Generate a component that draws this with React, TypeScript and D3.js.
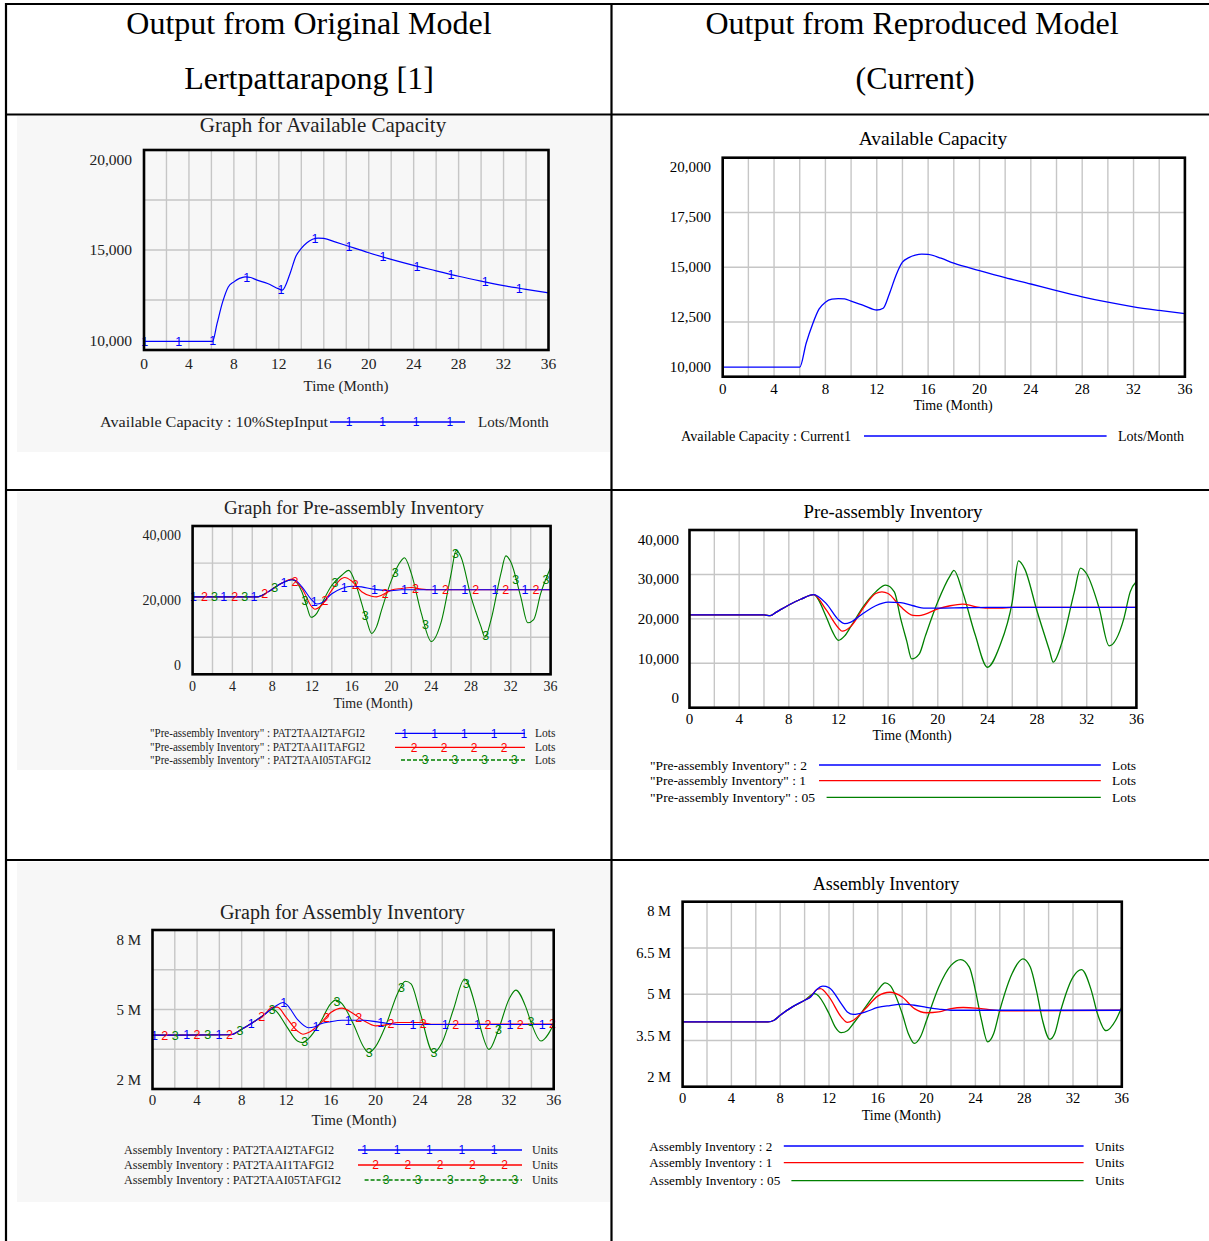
import React from 'react';
import * as d3 from 'd3';

type Pt = [number, number];

// Available Capacity (Lots/Month)
const capacityOriginal: Pt[] = [[0, 9950], [6.1, 9950], [6.5, 10930], [7, 12130], [7.5, 12960], [8, 13240], [8.5, 13430], [9, 13520], [9.5, 13480], [10, 13350], [11, 13150], [12, 12850], [12.3, 12780], [13, 13700], [13.5, 14630], [14, 15090], [14.5, 15400], [15, 15590], [15.5, 15660], [16, 15640], [17, 15450], [18, 15250], [20, 14850], [22, 14480], [24, 14150], [26, 13850], [28, 13550], [30, 13280], [32, 13030], [34, 12820], [36, 12630]];
const capacityCurrent: Pt[] = [[0, 10000], [6, 10000], [6.5, 11200], [7, 12150], [7.5, 12900], [8, 13250], [8.5, 13400], [9, 13430], [9.5, 13420], [10, 13300], [11, 13080], [12, 12860], [12.5, 12950], [13, 13700], [13.5, 14600], [14, 15250], [14.5, 15480], [15, 15600], [15.5, 15650], [16, 15640], [17, 15450], [18, 15200], [20, 14830], [22, 14480], [24, 14160], [26, 13830], [28, 13520], [30, 13250], [32, 13020], [34, 12840], [36, 12680]];

// Pre-assembly Inventory (Lots)
const preOriginal1: Pt[] = [[0, 21000], [6.5, 21000], [7, 21500], [8, 23400], [9, 25300], [10, 26300], [10.5, 25800], [11, 24100], [12, 20000], [12.5, 18800], [13, 19200], [14, 22000], [15, 23600], [16, 24300], [17, 24100], [18, 23500], [19, 23100], [20, 22900], [21, 23200], [36, 23200]];
const preOriginal2: Pt[] = [[0, 21000], [6.5, 21000], [7, 21500], [8, 23400], [9, 25300], [10, 26500], [11, 23600], [12, 17900], [12.3, 17200], [13, 18500], [14, 23100], [15, 26700], [15.3, 27000], [16, 25900], [17, 22600], [18, 21200], [18.5, 21000], [19, 21500], [20, 23100], [21, 23600], [22, 23900], [23, 23400], [24, 23200], [36, 23200]];
const preOriginal3: Pt[] = [[0, 21000], [6.5, 21000], [7, 21500], [8, 23400], [9, 25300], [10, 26300], [11, 22500], [11.5, 17900], [11.9, 14700], [12.5, 16000], [13, 19000], [14, 24600], [15, 27700], [15.7, 29200], [16.5, 24100], [17, 19000], [17.5, 13800], [18, 9700], [18.5, 11800], [19, 16900], [20, 26200], [21, 32300], [21.3, 33100], [22, 28200], [23, 15900], [24, 7200], [25, 13300], [26, 28200], [26.5, 35400], [27, 33300], [28, 21000], [29, 11800], [29.4, 8500], [30, 13800], [31, 28200], [31.5, 33700], [32, 31800], [33, 21000], [33.7, 13000], [34.3, 14000], [35, 22000], [36, 30000]];
const preCurrent2: Pt[] = [[0, 21000], [6, 21000], [6.5, 20800], [7, 21700], [8, 23500], [9, 25000], [10, 26100], [11, 23900], [12, 19800], [12.5, 18800], [13, 19200], [14, 21400], [15, 23300], [16, 24200], [17, 24100], [18, 23300], [19, 22700], [20, 22700], [22, 22800], [24, 22900], [36, 22900]];
const preCurrent1: Pt[] = [[0, 21000], [6, 21000], [6.5, 20800], [7, 21700], [8, 23500], [9, 25000], [10, 26100], [11, 22300], [12, 17700], [12.3, 16900], [13, 18100], [14, 22700], [15, 26400], [15.5, 26800], [16, 26400], [17, 23100], [18, 20900], [18.5, 20800], [19, 21200], [20, 22500], [21, 23300], [22, 23700], [23, 23100], [24, 22700], [25, 22700], [26, 22900], [36, 22900]];
const preCurrent05: Pt[] = [[0, 21000], [6, 21000], [6.5, 20800], [7, 21700], [8, 23500], [9, 25000], [10, 26100], [11, 20600], [11.5, 16900], [12, 14600], [12.5, 15700], [13, 18100], [14, 23100], [15, 26800], [15.8, 28500], [16.5, 26800], [17, 20200], [17.5, 14400], [17.9, 9900], [18.5, 11100], [19, 15700], [20, 24300], [21, 30900], [21.3, 32200], [22, 26800], [23, 16100], [24, 7800], [25, 13200], [26, 24300], [26.5, 34600], [27, 32600], [28, 21900], [29, 12000], [29.3, 9100], [30, 14000], [31, 26800], [31.5, 32800], [32, 31300], [33, 22700], [33.8, 13200], [35, 20200], [35.5, 26800], [36, 29400]];

// Assembly Inventory (millions of Units)
const asmOriginal1: Pt[] = [[0, 3.9], [7, 3.92], [8, 4.15], [9, 4.44], [10, 4.77], [11, 5.13], [11.7, 5.3], [12, 5.23], [13, 4.58], [14, 4.22], [14.5, 4.25], [15, 4.37], [16, 4.48], [17, 4.54], [19, 4.54], [20, 4.48], [21, 4.41], [22, 4.36], [36, 4.36]];
const asmOriginal2: Pt[] = [[0, 3.9], [7, 3.92], [8, 4.15], [9, 4.44], [10, 4.77], [10.8, 5.1], [11.2, 5.1], [12, 4.66], [13, 4.08], [13.5, 3.94], [14, 4.01], [15, 4.37], [16, 4.87], [17, 5.06], [18, 4.83], [19, 4.51], [20, 4.3], [21, 4.34], [22, 4.44], [24, 4.44], [25, 4.37], [36, 4.38]];
const asmOriginal3: Pt[] = [[0, 3.9], [7, 3.92], [8, 4.15], [9, 4.44], [10, 4.77], [10.75, 5.01], [11, 4.97], [12, 4.3], [13, 3.65], [13.5, 3.58], [14, 3.75], [15, 4.4], [16, 5.25], [16.4, 5.4], [17, 5.25], [18, 4.4], [19, 3.35], [19.4, 3.15], [20, 3.4], [21, 4.4], [22, 5.7], [22.7, 6.21], [23.2, 6.1], [24, 4.9], [25.2, 3.15], [26, 3.6], [27, 5.0], [28, 6.31], [29, 5.1], [29.5, 4.1], [30.2, 3.29], [31, 4.08], [32, 5.45], [32.6, 5.83], [33.5, 5.1], [34, 4.4], [34.85, 3.65], [36, 4.37]];
const asmCurrent2: Pt[] = [[0, 4.0], [7, 4.0], [7.5, 4.06], [8, 4.24], [9, 4.54], [10, 4.78], [10.5, 4.9], [11, 5.17], [11.5, 5.29], [12, 5.24], [13, 4.66], [13.5, 4.36], [14, 4.27], [15, 4.36], [16, 4.52], [17, 4.59], [18, 4.64], [19, 4.6], [20, 4.52], [21, 4.46], [22, 4.42], [36, 4.42]];
const asmCurrent1: Pt[] = [[0, 4.0], [7, 4.0], [7.5, 4.06], [8, 4.24], [9, 4.54], [10, 4.78], [10.5, 4.92], [11, 5.17], [11.3, 5.2], [12, 4.9], [13, 4.18], [13.5, 3.98], [14, 4.06], [15, 4.48], [16, 4.93], [17, 5.07], [18, 4.9], [19, 4.48], [20, 4.33], [21, 4.36], [22, 4.48], [23, 4.52], [24, 4.5], [25, 4.45], [26, 4.4], [27, 4.4], [36, 4.42]];
const asmCurrent05: Pt[] = [[0, 4.0], [7, 4.0], [7.5, 4.06], [8, 4.24], [9, 4.54], [10, 4.78], [10.8, 5.02], [11, 4.99], [12, 4.3], [12.5, 3.82], [13, 3.61], [13.5, 3.68], [14, 3.94], [15, 4.54], [16, 5.14], [16.6, 5.41], [17, 5.32], [18, 4.3], [18.5, 3.58], [19, 3.22], [19.5, 3.46], [20, 4.06], [21, 5.26], [22, 6.04], [22.8, 6.25], [23.5, 5.98], [24, 5.14], [24.5, 4.06], [25, 3.28], [25.5, 3.58], [26, 4.42], [27, 5.74], [27.9, 6.28], [28.5, 5.98], [29, 5.14], [29.5, 4.06], [30.1, 3.37], [30.5, 3.58], [31, 4.42], [32, 5.62], [32.7, 5.89], [33.5, 5.14], [34, 4.3], [34.7, 3.68], [35.5, 4.06], [36, 4.54]];

const capTicksOriginal = [10000, 15000, 20000];
const capTicksCurrent = [10000, 12500, 15000, 17500, 20000];
const preTicksOriginal = [0, 20000, 40000];
const preTicksCurrent = [0, 10000, 20000, 30000, 40000];
const asmTicksOriginal = [2, 5, 8];
const asmTicksCurrent = [2, 3.5, 5, 6.5, 8];
const monthTicks = [0, 4, 8, 12, 16, 20, 24, 28, 32, 36];

const BLUE = '#0000ff';
const RED = '#ff0000';
const GREEN = '#008000';
const SERIF = '"Liberation Serif", "Times New Roman", serif';
const SANS = '"Liberation Sans", Arial, sans-serif';

const comma = d3.format(',');
const mega = (v: number) => `${v} M`;

type Series = { data: Pt[]; color: string; mark?: string; start?: number };
type LegendRow = { label: string; w: number; y: number; color: string; x1: number; x2: number; unit: string; dash?: string; mark?: string; marks?: number[] };

type PanelProps = {
  box: { l: number; r: number; t: number; b: number };
  yDomain: [number, number];
  yTicks: number[];
  yFmt: (v: number) => string;
  yLabelX: number;
  xLabelY: number;
  tickFont: number;
  title: string; titleX: number; titleY: number; titleFont: number;
  axisX: number; axisY: number; axisFont: number;
  series: Series[];
  step?: number;
  legend: LegendRow[];
  legendX: number; legendFont: number; unitX: number;
  ink: string;
  lineW: number;
};

const Panel: React.FC<PanelProps> = (p) => {
  const { box } = p;
  const inset = 9.5;
  const x = d3.scaleLinear().domain([0, 36]).range([box.l, box.r]);
  const y = d3.scaleLinear().domain(p.yDomain).range([box.b - inset, box.t + inset]);
  const gy = d3.scaleLinear().domain([0, 4]).range([box.b, box.t]);
  const line = d3.line<Pt>().x(d => x(d[0])).y(d => y(d[1])).curve(d3.curveMonotoneX);
  const drawOrder = [...p.series].reverse();

  return (
    <g fontFamily={SERIF} fill={p.ink}>
      {/* grid */}
      {d3.range(2, 36, 2).map(m => (
        <line key={'vx' + m} x1={x(m)} x2={x(m)} y1={box.t} y2={box.b} stroke="#c6c6c6" strokeWidth={1.4} />
      ))}
      {[1, 2, 3].map(k => (
        <line key={'hy' + k} x1={box.l} x2={box.r} y1={gy(k)} y2={gy(k)} stroke="#c6c6c6" strokeWidth={1.4} />
      ))}

      {/* series */}
      {drawOrder.map((s, i) => (
        <path key={'s' + i} d={line(s.data) ?? ''} fill="none" stroke={s.color} strokeWidth={p.lineW} />
      ))}
      {drawOrder.filter(s => s.mark).map((s, i) => {
        const interp = d3.scaleLinear().domain(s.data.map(d => d[0])).range(s.data.map(d => d[1]));
        const ts = d3.range(s.start ?? 0, 36.01, p.step ?? 3);
        return ts.map((t, j) => (
          <text key={'m' + i + '-' + j} x={x(t)} y={y(interp(t))} dy="0.36em" textAnchor="middle"
            fontFamily={SANS} fontSize={12.5} fill={s.color}>{s.mark}</text>
        ));
      })}

      <rect x={box.l} y={box.t} width={box.r - box.l} height={box.b - box.t} fill="none" stroke="#000" strokeWidth={2.6} />

      {/* axes labels */}
      {p.yTicks.map(v => (
        <text key={'yt' + v} x={p.yLabelX} y={y(v)} dy="0.35em" textAnchor="end" fontSize={p.tickFont}>{p.yFmt(v)}</text>
      ))}
      {monthTicks.map(m => (
        <text key={'xt' + m} x={x(m)} y={p.xLabelY} dy="0.35em" textAnchor="middle" fontSize={p.tickFont}>{m}</text>
      ))}
      <text x={p.axisX} y={p.axisY} dy="0.35em" textAnchor="middle" fontSize={p.axisFont}>Time (Month)</text>
      <text x={p.titleX} y={p.titleY} dy="0.35em" textAnchor="middle" fontSize={p.titleFont}>{p.title}</text>

      {/* legend */}
      {p.legend.map((r, i) => (
        <g key={'lg' + i}>
          <text x={p.legendX} y={r.y} dy="0.35em" fontSize={p.legendFont} textLength={r.w} lengthAdjust="spacingAndGlyphs">{r.label}</text>
          <line x1={r.x1} x2={r.x2} y1={r.y} y2={r.y} stroke={r.color} strokeWidth={1.3} strokeDasharray={r.dash} />
          {(r.marks ?? []).map((mx, j) => (
            <text key={j} x={mx} y={r.y} dy="0.36em" textAnchor="middle" fontFamily={SANS} fontSize={12} fill={r.color}>{r.mark}</text>
          ))}
          <text x={p.unitX} y={r.y} dy="0.35em" fontSize={p.legendFont}>{r.unit}</text>
        </g>
      ))}
    </g>
  );
};

const App: React.FC = () => {
  return (
    <svg width={1209} height={1241} style={{ position: 'absolute', left: 0, top: 0, background: '#fff' }}>
      {/* light backgrounds of the pasted original screenshots */}
      <rect x={17} y={116} width={593} height={336} fill="#f7f7f7" />
      <rect x={17} y={492} width={593} height={278} fill="#f7f7f7" />
      <rect x={17} y={862} width={593} height={340} fill="#f7f7f7" />

      {/* table */}
      <g stroke="#000" strokeWidth={2.2}>
        <line x1={5} x2={1209} y1={4} y2={4} />
        <line x1={5} x2={1209} y1={114.5} y2={114.5} />
        <line x1={5} x2={1209} y1={490} y2={490} />
        <line x1={5} x2={1209} y1={860} y2={860} />
        <line x1={6} x2={6} y1={3} y2={1241} />
        <line x1={611.5} x2={611.5} y1={3} y2={1241} />
      </g>
      <g fontFamily={SERIF} fontSize={32} textAnchor="middle" fill="#000">
        <text x={309} y={34}>Output from Original Model</text>
        <text x={309} y={89}>Lertpattarapong [1]</text>
        <text x={912} y={34}>Output from Reproduced Model</text>
        <text x={915} y={89}>(Current)</text>
      </g>

      {/* Available Capacity, original */}
      <Panel box={{ l: 144, r: 548.5, t: 150, b: 350 }} yDomain={[10000, 20000]} yTicks={capTicksOriginal} yFmt={comma}
        yLabelX={132} xLabelY={364} tickFont={15.5}
        title="Graph for Available Capacity" titleX={323} titleY={125} titleFont={21}
        axisX={346} axisY={386} axisFont={15}
        series={[{ data: capacityOriginal, color: BLUE, mark: '1', start: 0.06 }]} step={3.03}
        legend={[{ label: 'Available Capacity : 10%StepInput', w: 228, y: 422, color: BLUE, x1: 330, x2: 465, unit: 'Lots/Month', mark: '1', marks: d3.range(349, 460, 33.6) }]}
        legendX={100} legendFont={15} unitX={478} ink="#222" lineW={1.2} />

      {/* Available Capacity, current */}
      <Panel box={{ l: 722.7, r: 1184.9, t: 157.7, b: 376.7 }} yDomain={[10000, 20000]} yTicks={capTicksCurrent} yFmt={comma}
        yLabelX={711} xLabelY={388.5} tickFont={15}
        title="Available Capacity" titleX={933} titleY={138.5} titleFont={19.5}
        axisX={953} axisY={405} axisFont={14}
        series={[{ data: capacityCurrent, color: BLUE }]}
        legend={[{ label: 'Available Capacity : Current1', w: 170, y: 436, color: BLUE, x1: 864, x2: 1106.6, unit: 'Lots/Month' }]}
        legendX={681} legendFont={14} unitX={1118} ink="#000" lineW={1.3} />

      {/* Pre-assembly Inventory, original */}
      <Panel box={{ l: 192.6, r: 550.6, t: 526, b: 674.3 }} yDomain={[0, 40000]} yTicks={preTicksOriginal} yFmt={comma}
        yLabelX={181} xLabelY={686} tickFont={14}
        title="Graph for Pre-assembly Inventory" titleX={354} titleY={507} titleFont={19}
        axisX={373} axisY={703} axisFont={14}
        series={[
          { data: preOriginal1, color: BLUE, mark: '1', start: 0.1 },
          { data: preOriginal2, color: RED, mark: '2', start: 1.2 },
          { data: preOriginal3, color: GREEN, mark: '3', start: 2.2 },
        ]} step={3.03}
        legend={[
          { label: '"Pre-assembly Inventory" : PAT2TAAI2TAFGI2', w: 215, y: 733.3, color: BLUE, x1: 395, x2: 525, unit: 'Lots', mark: '1', marks: d3.range(404.7, 530, 29.8) },
          { label: '"Pre-assembly Inventory" : PAT2TAAI1TAFGI2', w: 215, y: 747.3, color: RED, x1: 395, x2: 525, unit: 'Lots', mark: '2', marks: d3.range(414, 510, 30) },
          { label: '"Pre-assembly Inventory" : PAT2TAAI05TAFGI2', w: 221, y: 760, color: GREEN, x1: 401, x2: 525, unit: 'Lots', dash: '4,2', mark: '3', marks: d3.range(425, 520, 29.8) },
        ]}
        legendX={150} legendFont={11.5} unitX={535} ink="#222" lineW={1.1} />

      {/* Pre-assembly Inventory, current */}
      <Panel box={{ l: 689.5, r: 1136.4, t: 530, b: 707.7 }} yDomain={[0, 40000]} yTicks={preTicksCurrent} yFmt={comma}
        yLabelX={679} xLabelY={718.7} tickFont={15}
        title="Pre-assembly Inventory" titleX={893} titleY={511.7} titleFont={18.8}
        axisX={912} axisY={735} axisFont={14}
        series={[
          { data: preCurrent2, color: BLUE },
          { data: preCurrent1, color: RED },
          { data: preCurrent05, color: GREEN },
        ]}
        legend={[
          { label: '"Pre-assembly Inventory" : 2', w: 157, y: 765, color: BLUE, x1: 819, x2: 1100.8, unit: 'Lots' },
          { label: '"Pre-assembly Inventory" : 1', w: 156, y: 780.7, color: RED, x1: 819, x2: 1100.8, unit: 'Lots' },
          { label: '"Pre-assembly Inventory" : 05', w: 165, y: 797.3, color: GREEN, x1: 826.6, x2: 1100.8, unit: 'Lots' },
        ]}
        legendX={650} legendFont={13.5} unitX={1112} ink="#000" lineW={1.3} />

      {/* Assembly Inventory, original */}
      <Panel box={{ l: 152.5, r: 553.7, t: 930, b: 1089 }} yDomain={[2, 8]} yTicks={asmTicksOriginal} yFmt={mega}
        yLabelX={141} xLabelY={1100} tickFont={15}
        title="Graph for Assembly Inventory" titleX={342.4} titleY={911.7} titleFont={20}
        axisX={354} axisY={1119.3} axisFont={15}
        series={[
          { data: asmOriginal1, color: BLUE, mark: '1', start: 0.17 },
          { data: asmOriginal2, color: RED, mark: '2', start: 1.1 },
          { data: asmOriginal3, color: GREEN, mark: '3', start: 2.05 },
        ]} step={2.9}
        legend={[
          { label: 'Assembly Inventory : PAT2TAAI2TAFGI2', w: 210, y: 1150, color: BLUE, x1: 358, x2: 522, unit: 'Units', mark: '1', marks: d3.range(364.6, 500, 32.4) },
          { label: 'Assembly Inventory : PAT2TAAI1TAFGI2', w: 210, y: 1165, color: RED, x1: 358, x2: 522, unit: 'Units', mark: '2', marks: d3.range(375.5, 510, 32.3) },
          { label: 'Assembly Inventory : PAT2TAAI05TAFGI2', w: 217, y: 1180, color: GREEN, x1: 364.6, x2: 522, unit: 'Units', dash: '4,2', mark: '3', marks: d3.range(386, 520, 32.2) },
        ]}
        legendX={124} legendFont={12} unitX={532} ink="#222" lineW={1.1} />

      {/* Assembly Inventory, current */}
      <Panel box={{ l: 682.6, r: 1121.8, t: 901.7, b: 1086.7 }} yDomain={[2, 8]} yTicks={asmTicksCurrent} yFmt={mega}
        yLabelX={671} xLabelY={1098.3} tickFont={14.5}
        title="Assembly Inventory" titleX={886} titleY={883.3} titleFont={18}
        axisX={901.4} axisY={1115} axisFont={14}
        series={[
          { data: asmCurrent2, color: BLUE },
          { data: asmCurrent1, color: RED },
          { data: asmCurrent05, color: GREEN },
        ]}
        legend={[
          { label: 'Assembly Inventory : 2', w: 123, y: 1146, color: BLUE, x1: 783.8, x2: 1083.6, unit: 'Units' },
          { label: 'Assembly Inventory : 1', w: 123, y: 1162.7, color: RED, x1: 783.8, x2: 1083.6, unit: 'Units' },
          { label: 'Assembly Inventory : 05', w: 131, y: 1180.7, color: GREEN, x1: 791.4, x2: 1083.6, unit: 'Units' },
        ]}
        legendX={649.3} legendFont={13.5} unitX={1095} ink="#000" lineW={1.3} />
    </svg>
  );
};

export default App;
